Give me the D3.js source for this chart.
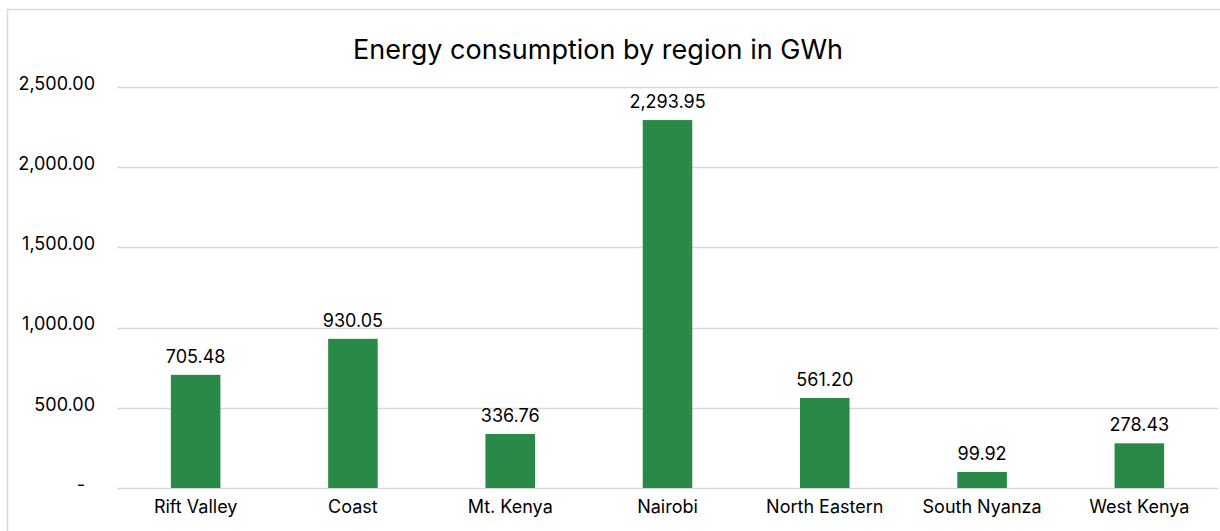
<!DOCTYPE html>
<html>
<head>
<meta charset="utf-8">
<script src="https://cdn.jsdelivr.net/npm/d3@7"></script>
<style>
  body { margin: 0; background: #fff; }
  svg { display: block; }
  text { font-family: Inter, "Noto Sans", sans-serif; fill: #000; }
</style>
</head>
<body>
<script>
// Chart data
var regions = ["Rift Valley", "Coast", "Mt. Kenya", "Nairobi", "North Eastern", "South Nyanza", "West Kenya"];
var consumption = [705.48, 930.05, 336.76, 2293.95, 561.20, 99.92, 278.43];
var yTicks = [0, 500, 1000, 1500, 2000, 2500];
var chartTitle = "Energy consumption by region in GWh";

var svgWidth = 1220;
var svgHeight = 531;

// Plot area in page pixels
var margin = { top: 87, right: 2, bottom: 43, left: 117 };
var chartWidth = svgWidth - margin.left - margin.right;
var chartHeight = svgHeight - margin.top - margin.bottom;

var svg = d3.select("body")
  .append("svg")
  .attr("width", svgWidth)
  .attr("height", svgHeight);

// Outer chart border (cut off at right and bottom)
svg.append("rect")
  .attr("x", 7.5)
  .attr("y", 9.5)
  .attr("width", 1240)
  .attr("height", 560)
  .attr("fill", "none")
  .attr("stroke", "#d9d9d9")
  .attr("stroke-width", 1.5);

svg.append("text")
  .attr("x", 598)
  .attr("y", 59)
  .attr("text-anchor", "middle")
  .style("font-size", "27px")
  .text(chartTitle);

var chartGroup = svg.append("g")
  .attr("transform", "translate(" + margin.left + ", " + margin.top + ")");

var xScale = d3.scaleBand()
  .domain(regions)
  .range([0, chartWidth])
  .paddingInner(0.685)
  .paddingOuter(0.3425);

var yScale = d3.scaleLinear()
  .domain([0, 2500])
  .range([chartHeight, 0]);

var fmt = d3.format(",.2f");

// Gridlines
chartGroup.append("g")
  .selectAll("line")
  .data(yTicks)
  .enter()
  .append("line")
  .attr("x1", 0)
  .attr("x2", chartWidth)
  .attr("y1", function (d) { return Math.round(yScale(d)) + 0.5; })
  .attr("y2", function (d) { return Math.round(yScale(d)) + 0.5; })
  .attr("stroke", "#d9d9d9")
  .attr("stroke-width", 1.5);

// Left axis labels
var leftAxis = d3.axisLeft(yScale)
  .tickValues(yTicks)
  .tickSize(0)
  .tickPadding(22)
  .tickFormat(function (d) { return d === 0 ? "-" : fmt(d); });

var yAxisG = chartGroup.append("g")
  .call(leftAxis);
yAxisG.select(".domain").remove();
yAxisG.selectAll("text")
  .style("font-size", "18px")
  .style("font-family", null)
  .attr("dy", "0.13em")
  .attr("x", function (d) { return d === 0 ? -32 : -22; });

// Bars
chartGroup.selectAll(".bar")
  .data(consumption)
  .enter()
  .append("rect")
  .attr("class", "bar")
  .attr("x", function (d, i) { return xScale(regions[i]); })
  .attr("width", xScale.bandwidth())
  .attr("y", function (d) { return yScale(d); })
  .attr("height", function (d) { return chartHeight - yScale(d); })
  .attr("fill", "#288a46");

// Data labels
chartGroup.selectAll(".label")
  .data(consumption)
  .enter()
  .append("text")
  .attr("class", "label")
  .attr("x", function (d, i) { return xScale(regions[i]) + xScale.bandwidth() / 2; })
  .attr("y", function (d) { return yScale(d) - 12; })
  .attr("text-anchor", "middle")
  .style("font-size", "18px")
  .text(function (d) { return fmt(d); });

// Bottom axis labels
var bottomAxis = d3.axisBottom(xScale)
  .tickSize(0)
  .tickPadding(10);

var xAxisG = chartGroup.append("g")
  .attr("transform", "translate(0, " + chartHeight + ")")
  .call(bottomAxis);
xAxisG.select(".domain").remove();
xAxisG.selectAll("text")
  .style("font-size", "18px")
  .style("font-family", null)
  .attr("y", 25)
  .attr("dy", 0);
</script>
</body>
</html>
